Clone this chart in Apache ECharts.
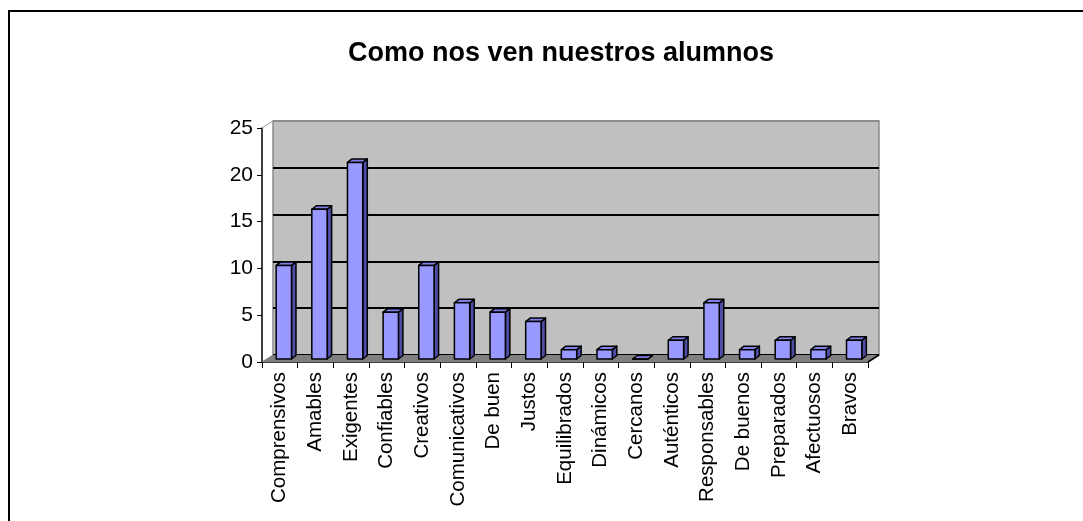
<!DOCTYPE html>
<html>
<head>
<meta charset="utf-8">
<script src="https://cdn.jsdelivr.net/npm/echarts@6/dist/echarts.min.js"></script>
<style>
  html, body { margin: 0; padding: 0; background: #fff; }
  #chart { width: 1083px; height: 521px; }
</style>
</head>
<body>
<div id="chart"></div>
<script>
const categories = ['Comprensivos', 'Amables', 'Exigentes', 'Confiables', 'Creativos', 'Comunicativos',
  'De buen', 'Justos', 'Equilibrados', 'Dinámicos', 'Cercanos', 'Auténticos', 'Responsables',
  'De buenos', 'Preparados', 'Afectuosos', 'Bravos'];
const values = [10, 16, 21, 5, 10, 6, 5, 4, 1, 1, 0, 2, 6, 1, 2, 1, 2];
const yTicks = [0, 5, 10, 15, 20, 25];

// 3d depth of the plot box
const DX = 11, DY = 7;
const font = 'Liberation Sans, Arial, sans-serif';

const chart = echarts.init(document.getElementById('chart'));

function renderBar(params, api) {
  const i = api.value(0);
  const v = api.value(1);
  const top = api.coord([i, v]);
  const base = api.coord([i, 0]);
  const bw = api.size([1, 0])[0];
  const w = bw * 0.43;
  const ox = 4, oy = -3;   // front face sits a bit inside the box
  const bx = 4.5, by = -3.5; // bar depth
  const x0 = top[0] - w / 2 + ox, x1 = x0 + w;
  const y0 = top[1] + oy, y1 = base[1] + oy;
  const stroke = { stroke: '#000', lineWidth: 1.5, lineJoin: 'round' };
  return {
    type: 'group',
    children: [
      { type: 'polygon', shape: { points: [[x1, y0], [x1 + bx, y0 + by], [x1 + bx, y1 + by], [x1, y1]] },
        style: Object.assign({ fill: '#4d4da6' }, stroke) },
      { type: 'polygon', shape: { points: [[x0, y0], [x0 + bx, y0 + by], [x1 + bx, y0 + by], [x1, y0]] },
        style: Object.assign({ fill: '#7f7fe6' }, stroke) },
      { type: 'rect', shape: { x: x0, y: y0, width: w, height: y1 - y0 },
        style: Object.assign({ fill: '#9999ff' }, stroke) }
    ]
  };
}

function renderFloor(params, api) {
  const bw = api.size([1, 0])[0];
  const l = api.coord([0, 0]);
  const r = api.coord([categories.length - 1, 0]);
  const t = api.coord([0, 25]);
  const xl = l[0] - bw / 2, xr = r[0] + bw / 2, y = l[1];
  return {
    type: 'group',
    children: [
      { type: 'polygon', shape: { points: [[xl, y], [xr, y], [xr + DX, y - DY], [xl + DX, y - DY]] },
        style: { fill: '#808080', stroke: null } },
      { type: 'line', shape: { x1: xr, y1: y, x2: xr + DX, y2: y - DY },
        style: { stroke: '#000', lineWidth: 1.5 } },
      { type: 'line', shape: { x1: xl, y1: y, x2: xl + DX, y2: y - DY },
        style: { stroke: '#808080', lineWidth: 1 } },
      { type: 'line', shape: { x1: xl, y1: t[1], x2: xl + DX, y2: t[1] - DY },
        style: { stroke: '#999', lineWidth: 1 } }
    ]
  };
}

chart.setOption({
  animation: false,
  backgroundColor: '#fff',
  title: {
    text: 'Como nos ven nuestros alumnos',
    left: 556, top: 35, textAlign: 'center',
    textStyle: { fontFamily: font, fontSize: 27, fontWeight: 'bold', color: '#000' }
  },
  graphic: [
    { type: 'polyline', shape: { points: [[9, 530], [9, 11], [1090, 11]] },
      style: { stroke: '#000', lineWidth: 2, fill: null }, z: 100 }
  ],
  grid: [
    { left: 262, right: 215, top: 128, bottom: 159 },
    { left: 273, right: 204, top: 121, bottom: 166, show: true, backgroundColor: '#c0c0c0',
      borderColor: '#8c8c8c', borderWidth: 1.5 }
  ],
  xAxis: [
    { type: 'category', gridIndex: 0, data: categories,
      axisLine: { lineStyle: { color: '#000', width: 1.5 } },
      axisTick: { show: true, length: 6, lineStyle: { color: '#000' } },
      axisLabel: { rotate: 90, interval: 0, margin: 10, color: '#000', fontFamily: font, fontSize: 20.5 } },
    { type: 'category', gridIndex: 1, data: categories, show: false }
  ],
  yAxis: [
    { type: 'value', gridIndex: 0, min: 0, max: 25, interval: 5,
      axisLine: { show: true, lineStyle: { color: '#000', width: 1.5 } },
      axisTick: { show: true, length: 5, lineStyle: { color: '#000' } },
      splitLine: { show: false },
      axisLabel: { color: '#000', fontFamily: font, fontSize: 21, margin: 9,
        formatter: v => yTicks.indexOf(v) >= 0 ? String(v) : '' } },
    { type: 'value', gridIndex: 1, min: 0, max: 25, interval: 5,
      axisLine: { show: false }, axisTick: { show: false }, axisLabel: { show: false },
      splitLine: { show: true, lineStyle: { color: ['#000', '#000', '#000', '#000', '#000', '#8c8c8c'], width: 2 } } }
  ],
  series: [
    { type: 'custom', xAxisIndex: 0, yAxisIndex: 0, data: [[0, 0]], renderItem: renderFloor, z: 1, silent: true },
    { type: 'custom', xAxisIndex: 0, yAxisIndex: 0, data: values.map((v, i) => [i, v]), renderItem: renderBar, z: 5 }
  ]
});
</script>
</body>
</html>
